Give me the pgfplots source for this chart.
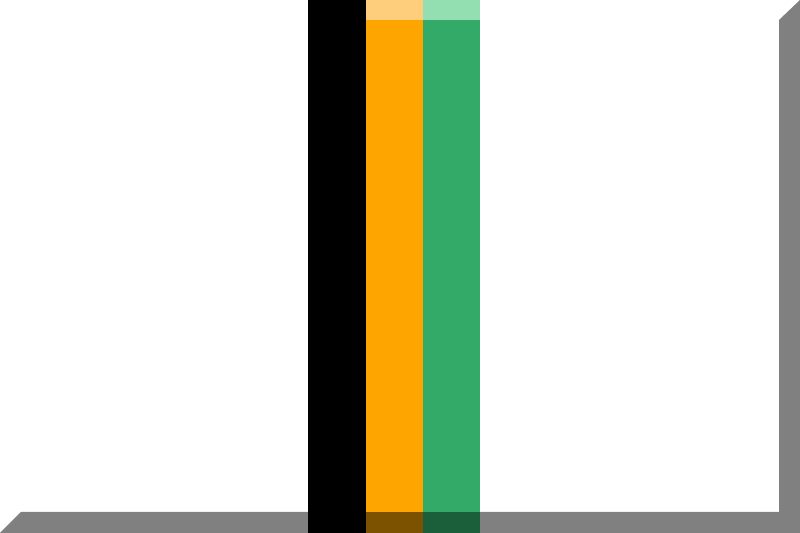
\documentclass[border=0pt]{standalone}
\usepackage{pgfplots}
\pgfplotsset{compat=1.18}
\definecolor{shadow}{HTML}{808080}
\definecolor{orng}{HTML}{FFA500}
\definecolor{orngl}{HTML}{FFCE7C}
\definecolor{orngd}{HTML}{7C5100}
\definecolor{grn}{HTML}{33AA68}
\definecolor{grnl}{HTML}{94DFB2}
\definecolor{grnd}{HTML}{1B5F3A}
\begin{document}
\begin{tikzpicture}
\begin{axis}[
    width=400pt, height=266.5pt,
    scale only axis,
    xmin=0, xmax=800,
    ymin=0, ymax=533,
    hide axis,
    clip=true
]
% background
\addplot[fill=white, draw=none] coordinates {(0,0)(800,0)(800,533)(0,533)};
% 3d shadow
\addplot[fill=shadow, draw=none] coordinates {(0,0)(21,21)(779,21)(779,513)(800,533)(800,0)};
% stripes
\addplot[fill=black, draw=none] coordinates {(308,0)(366,0)(366,533)(308,533)};
\addplot[fill=orng, draw=none] coordinates {(366,21)(423,21)(423,513)(366,513)};
\addplot[fill=orngl, draw=none] coordinates {(366,513)(423,513)(423,533)(366,533)};
\addplot[fill=orngd, draw=none] coordinates {(366,0)(423,0)(423,21)(366,21)};
\addplot[fill=grn, draw=none] coordinates {(423,21)(480,21)(480,513)(423,513)};
\addplot[fill=grnl, draw=none] coordinates {(423,513)(480,513)(480,533)(423,533)};
\addplot[fill=grnd, draw=none] coordinates {(423,0)(480,0)(480,21)(423,21)};
\end{axis}
\end{tikzpicture}
\end{document}
